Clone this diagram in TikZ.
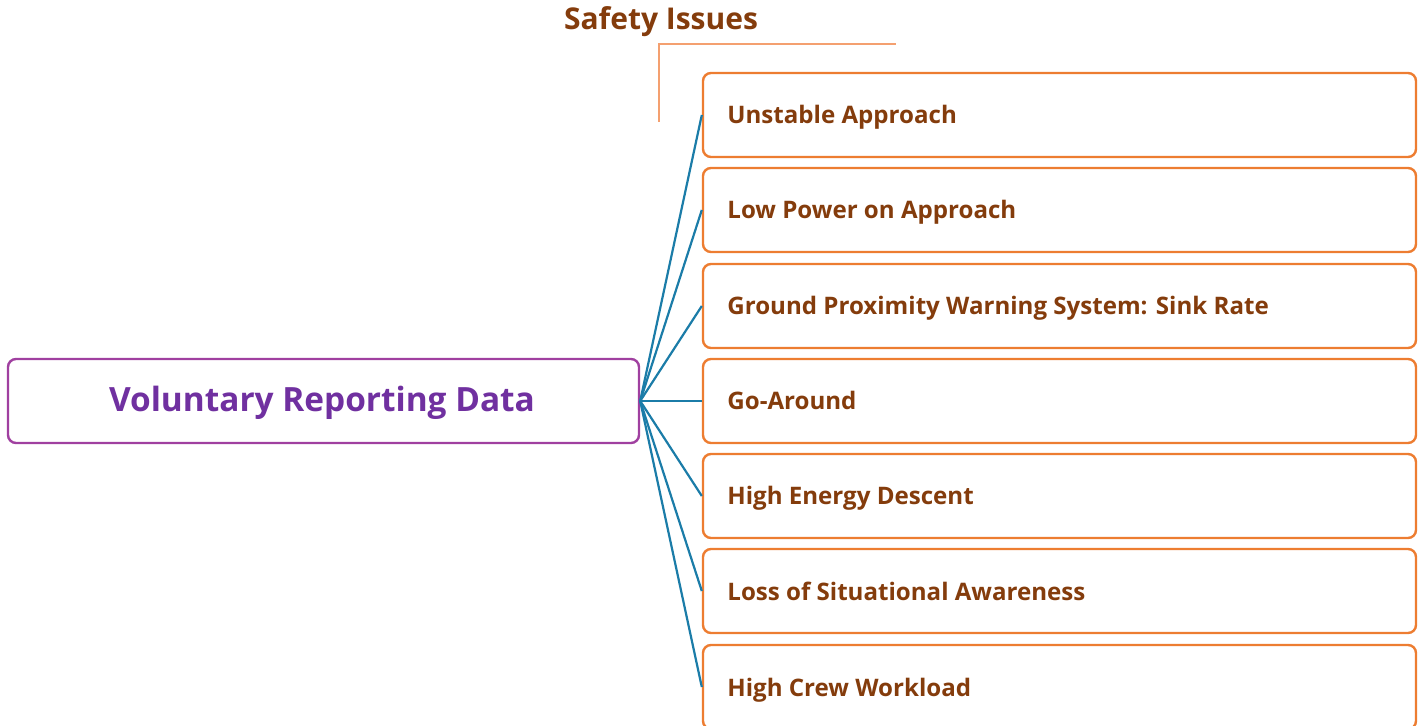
\documentclass[tikz,border=0pt]{standalone}
\usepackage{fontspec}
\setmainfont{Open Sans}
\definecolor{purpleborder}{HTML}{A040A0}
\definecolor{purpletext}{HTML}{7030A0}
\definecolor{orangeborder}{HTML}{ED7D31}
\definecolor{bracketorange}{HTML}{F4A070}
\definecolor{browntext}{HTML}{843C0C}
\definecolor{linkblue}{HTML}{1B7CA8}
\begin{document}
\begin{tikzpicture}[x=0.5pt,y=-0.5pt,
  rootbox/.style={draw=purpleborder,line width=1.2pt,rounded corners=4pt,fill=white,minimum width=315.5pt,minimum height=42pt,inner sep=0pt},
  issuebox/.style={draw=orangeborder,line width=1.2pt,rounded corners=4pt,fill=white,minimum width=356.5pt,minimum height=42pt,inner sep=0pt},
  issuetext/.style={anchor=base west,text=browntext,font=\bfseries\fontsize{12.05}{14}\selectfont,inner sep=0pt},
  link/.style={draw=linkblue,line width=1.1pt},
  bracket/.style={draw=bracketorange,line width=0.6pt}]
\useasboundingbox (0,0) rectangle (1418,726);
\node[anchor=base,inner sep=0pt,font=\bfseries\fontsize{15}{17}\selectfont,text=browntext] (title) at (661,30) {Safety Issues};
\coordinate (b1) at (659,122);
\coordinate (b2) at (659,44);
\coordinate (b3) at (896,44);
\draw[bracket] (b1) -- (b2) -- (b3);
\node[rootbox] (root) at (323.5,401) {};
\node[anchor=base,inner sep=0pt,text=purpletext,font=\bfseries\fontsize{16.7}{19}\selectfont] (roottext) at (322,412) {Voluntary Reporting Data};
\foreach \i/\y/\t in {1/115/Unstable Approach,2/210/Low Power on Approach,3/306/Ground Proximity Warning System: Sink Rate,4/401/Go-Around,5/496/High Energy Descent,6/591/Loss of Situational Awareness,7/687/High Crew Workload}{
  \node[issuebox] (box\i) at (1059.5,\y) {};
  \node[issuetext] (txt\i) at (727,\y+9) {\t};
  \draw[link] (root.east) -- (box\i.west);
}
\end{tikzpicture}
\end{document}
